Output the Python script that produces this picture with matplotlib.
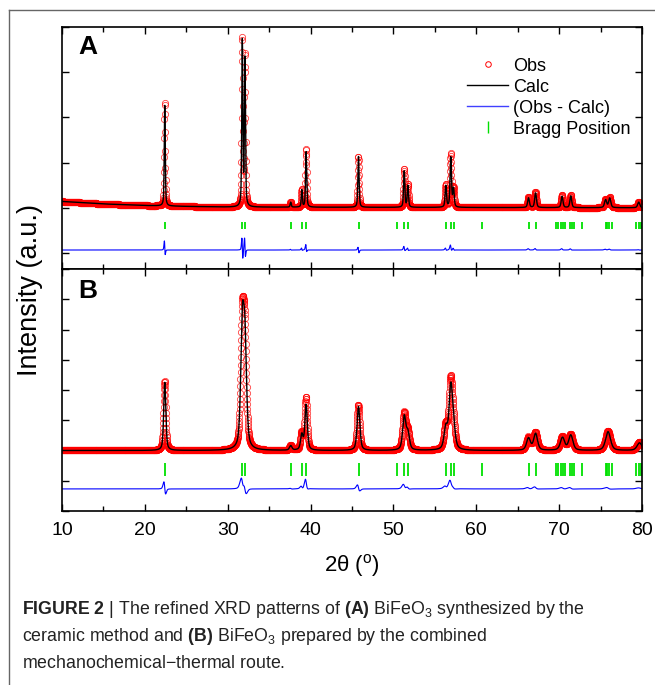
import numpy as np
import matplotlib
matplotlib.use('Agg')
import matplotlib.pyplot as plt
from matplotlib.lines import Line2D
from matplotlib.ticker import MultipleLocator

plt.rcParams['font.family'] = ['Liberation Sans', 'DejaVu Sans']
plt.rcParams['mathtext.fontset'] = 'custom'
plt.rcParams['mathtext.rm'] = 'Liberation Sans'
plt.rcParams['mathtext.it'] = 'Liberation Sans:italic'
plt.rcParams['mathtext.bf'] = 'Liberation Sans:bold'

# grade de 2theta (passo de 0,02 graus)
passo = 0.02
tt = np.arange(10, 80 + passo / 2, passo)

# Posicoes de Bragg (iguais nos dois paineis)
bragg = [22.40, 31.76, 32.08, 37.67, 38.94, 39.44, 45.80, 50.40, 51.30, 51.70,
         56.30, 56.90, 57.25, 60.70, 66.30, 67.20, 69.60, 69.90, 70.20, 70.50,
         70.70, 71.30, 71.60, 71.80, 72.80, 75.60, 75.80, 76.05, 76.40,
         79.30, 79.60, 79.85]

# Painel A - metodo ceramico (picos)
pos_a = [22.40, 31.76, 32.08, 37.60, 38.94, 39.46, 45.78, 51.30, 51.74,
         56.32, 56.92, 57.25, 66.30, 67.15, 70.35, 71.40, 75.60, 76.10, 79.60]
calc_a = [4450, 7300, 6500, 220, 750, 2450, 2250, 1600, 950,
          950, 2200, 800, 430, 650, 500, 520, 350, 420, 250]
obs_a = [4600, 7400, 6700, 240, 800, 2580, 2250, 1700, 1000,
         1000, 2350, 850, 480, 700, 550, 560, 380, 450, 260]
larg_a = [0.14, 0.15, 0.15, 0.15, 0.15, 0.16, 0.17, 0.18, 0.18,
          0.20, 0.20, 0.20, 0.25, 0.25, 0.25, 0.25, 0.30, 0.30, 0.30]
fundo_a_x = [10, 15, 20, 25, 30, 80]
fundo_a_y = [280, 170, 100, 60, 30, 0]

# Painel B - rota mecanoquimica-termica
pos_b = [22.40, 31.76, 32.08, 37.60, 38.94, 39.46, 45.78, 51.30, 51.74,
         56.32, 56.92, 57.25, 66.30, 67.15, 70.40, 71.40, 75.90, 79.70]
calc_b = [2250, 3800, 3250, 150, 500, 1500, 1450, 1100, 550,
          700, 2000, 600, 400, 550, 420, 500, 620, 250]
obs_b = [2300, 3900, 3350, 160, 550, 1750, 1500, 1200, 600,
         750, 2200, 650, 430, 600, 450, 530, 650, 280]
larg_b = [0.30, 0.46, 0.46, 0.35, 0.35, 0.35, 0.40, 0.45, 0.45,
          0.50, 0.50, 0.50, 0.55, 0.55, 0.60, 0.60, 0.70, 0.70]
fundo_b_x = [10, 80]
fundo_b_y = [0, 0]


def perfil(pos, alt, larg, desloc=0.0):
    # soma de pseudo-Voigt (eta = 0.5)
    y = np.zeros_like(tt)
    for p, h, w in zip(pos, alt, larg):
        d = (tt - p - desloc) / (w / 2)
        y += h * (0.5 / (1 + d ** 2) + 0.5 * np.exp(-np.log(2) * d ** 2))
    return y


paineis = [
    dict(rot='A', pos=pos_a, calc=calc_a, obs=obs_a, larg=larg_a,
         fx=fundo_a_x, fy=fundo_a_y, ylim=(-2710, 8000), passo_y=2000,
         dif=-1870, bragg_y=(-950, -640), desloc=-0.007, rot_y=0.965),
    dict(rot='B', pos=pos_b, calc=calc_b, obs=obs_b, larg=larg_b,
         fx=fundo_b_x, fy=fundo_b_y, ylim=(-2000, 6000), passo_y=1000,
         dif=-1270, bragg_y=(-830, -400), desloc=-0.02, rot_y=0.96),
]

fig = plt.figure(figsize=(6.55, 6.85), dpi=100)
caixas = [[0.0947, 0.6073, 0.8855, 0.3533], [0.0947, 0.2540, 0.8855, 0.3533]]

for caixa, p in zip(caixas, paineis):
    ax = fig.add_axes(caixa)
    fundo = np.interp(tt, p['fx'], p['fy'])
    y_calc = fundo + perfil(p['pos'], p['calc'], p['larg'])
    y_obs = fundo + perfil(p['pos'], p['obs'], p['larg'], p['desloc'])

    ax.plot(tt, y_obs, 'o', ms=4.5, mfc='none', mec='red', mew=0.6, alpha=0.75)
    ax.plot(tt, y_calc, color='black', lw=1.0)
    ax.plot(tt, y_obs - y_calc + p['dif'], color='blue', lw=0.8)
    ax.vlines(bragg, p['bragg_y'][0], p['bragg_y'][1], color='#00e000', lw=1.3)

    ax.set_xlim(10, 80)
    ax.set_ylim(*p['ylim'])
    ax.xaxis.set_major_locator(MultipleLocator(10))
    ax.xaxis.set_minor_locator(MultipleLocator(5))
    ax.yaxis.set_major_locator(MultipleLocator(p['passo_y']))
    ax.tick_params(which='both', direction='in', top=True, right=True, width=1.0)
    ax.tick_params(which='major', length=5)
    ax.tick_params(which='minor', length=3.5)
    ax.set_yticklabels([])
    for s in ax.spines.values():
        s.set_linewidth(1.2)
    ax.text(0.028, p['rot_y'], p['rot'], transform=ax.transAxes, fontsize=19,
            fontweight='bold', va='top', ha='left')

    if p['rot'] == 'A':
        ax.set_xticklabels([])
        handles = [
            Line2D([], [], marker='o', ls='none', ms=4, mfc='none', mec='red', mew=0.7),
            Line2D([], [], color='black', lw=1.0),
            Line2D([], [], color='#4040ff', lw=1.0),
            Line2D([], [], marker='|', ls='none', ms=8, color='#00e000'),
        ]
        ax.legend(handles, ['Obs', 'Calc', '(Obs - Calc)', 'Bragg Position'],
                  loc='upper right', bbox_to_anchor=(1.008, 0.94), frameon=False,
                  fontsize=13, handlelength=2.3, handletextpad=0.25,
                  labelspacing=0.22)
    else:
        ax.tick_params(axis='x', labelsize=14, pad=8)
        ax.set_xlabel('2θ ($^{\\rm o}$)', fontsize=16, labelpad=9)

fig.text(0.046, 1 - 290 / 685, 'Intensity (a.u.)', rotation=90,
         fontsize=19.5, ha='center', va='center')

# legenda da figura
leg_fig = [r'$\mathbf{FIGURE\ 2}$ | The refined XRD patterns of $\mathbf{(A)}$ BiFeO$_3$ synthesized by the',
           r'ceramic method and $\mathbf{(B)}$ BiFeO$_3$ prepared by the combined',
           r'mechanochemical$-$thermal route.']
for i, linha in enumerate(leg_fig):
    fig.text(22 / 655, 1 - (614 + 27 * i) / 685, linha, fontsize=12.75,
             color='#222222', va='baseline')

# moldura cinza da pagina
fig.add_artist(Line2D([9 / 655, 1], [1 - 10 / 685] * 2, color='#666666', lw=1.0))
fig.add_artist(Line2D([9 / 655] * 2, [0, 1 - 10 / 685], color='#666666', lw=1.0))

fig.savefig('out.png', dpi=100)
